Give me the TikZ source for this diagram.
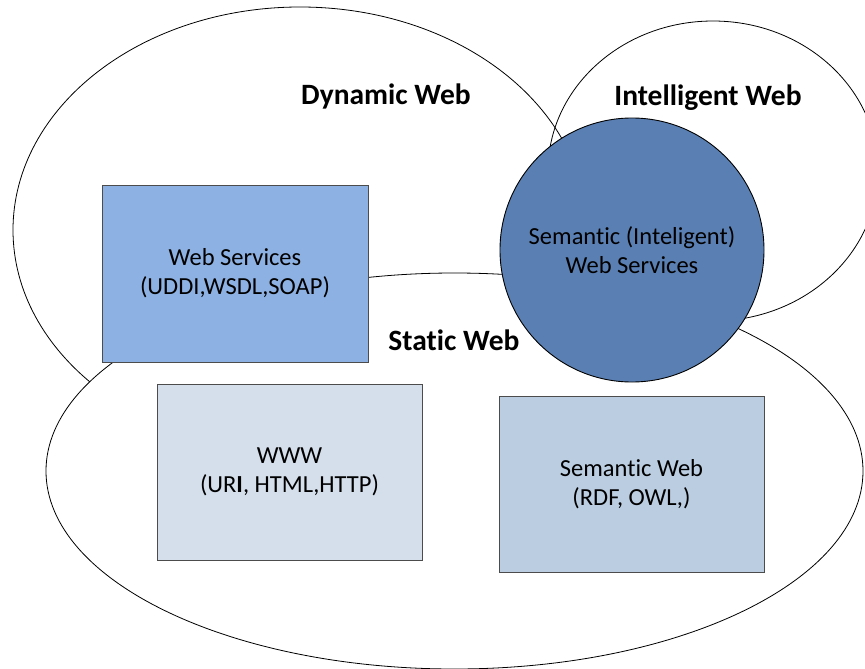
\documentclass[tikz,border=0pt]{standalone}
\usepackage{fontspec}
\setmainfont{Carlito}[Ligatures=CommonOff]
\usepackage{xcolor}
\usetikzlibrary{shapes.geometric, positioning}

\definecolor{servblue}{HTML}{8DB1E2}
\definecolor{wwwblue}{HTML}{D5DFEB}
\definecolor{semblue}{HTML}{BBCDE1}
\definecolor{smartblue}{HTML}{5A7FB3}

\begin{document}
\begin{tikzpicture}[
    x=1pt, y=-1pt,
    region/.style={
        ellipse,
        draw,
        line width=0.8pt,
        inner sep=0pt
    },
    techbox/.style={
        rectangle,
        draw=black!70,
        line width=0.9pt,
        minimum width=265pt,
        minimum height=176pt,
        align=center,
        font=\fontsize{24.5}{29}\selectfont
    },
    title/.style={
        font=\fontsize{29.5}{35}\selectfont\bfseries
    }
]

\useasboundingbox (0,0) rectangle (865,669);

% the three webs
\node[region, minimum width=574pt, minimum height=446pt] (dynamic) at (300,230) {};
\node[region, minimum width=330pt, minimum height=300pt] (intelligent) at (713,171) {};
\node[region, fill=white, minimum width=817pt, minimum height=396pt] (static) at (454.5,471) {};

% technologies
\node[techbox, fill=servblue, minimum width=266pt, minimum height=177pt] (services) at (235,273.5) {
    Web Services\\
    (UDDI,WSDL,SOAP)
};

\node[techbox, fill=wwwblue] (www) at (289.5,472) {
    WWW\\
    (UR\textbf{I}, HTML,HTTP)
};

\node[techbox, fill=semblue] (semweb) at (631.5,484) {
    Semantic Web\\
    (RDF, OWL,)
};

\node[circle, draw, line width=0.9pt, fill=smartblue, minimum size=264pt, inner sep=0pt,
      align=center, font=\fontsize{24.5}{29}\selectfont] (smart) at (632,250) {
    Semantic (Inteligent)\\
    Web Services
};

% titles
\node[title] (dynamicTitle) at (386,96) {Dynamic Web};
\node[title] (intelligentTitle) at (708,98) {Intelligent Web};
\node[title] (staticTitle) at (454,340) {Static Web};

\end{tikzpicture}
\end{document}
